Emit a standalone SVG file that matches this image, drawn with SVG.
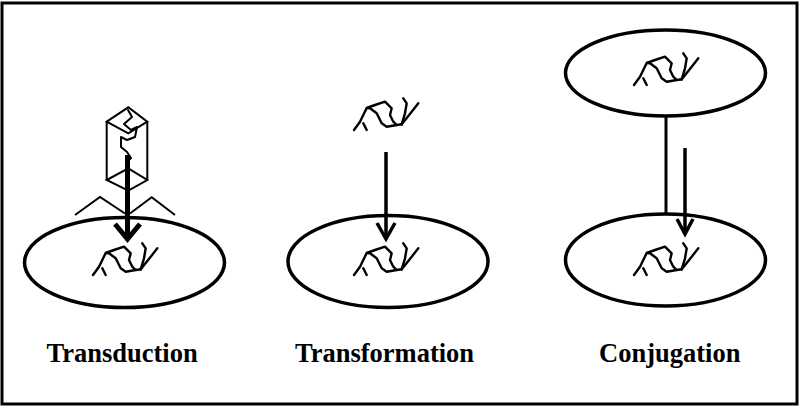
<svg xmlns="http://www.w3.org/2000/svg" xmlns:xlink="http://www.w3.org/1999/xlink" width="800" height="408" viewBox="0 0 800 408">
<style>
.cell{fill:none;stroke:#000;stroke-width:3.5}
.dna{fill:none;stroke:#000;stroke-width:2.4;stroke-linejoin:round;stroke-linecap:round}
.line{fill:none;stroke:#000;stroke-width:3.5}
.ph{fill:none;stroke:#000;stroke-width:2;stroke-linejoin:miter}
.lbl{font-family:"Liberation Serif","Times New Roman",serif;font-weight:bold;font-size:26.5px;fill:#000}
</style>
<defs>
<g id="dna">
<polyline class="dna" points="6,35 12,26.7 18.7,13 27,10 37,6.7 43.7,13.3 42,20 45.3,26.7 48.7,30"/>
<polyline class="dna" points="19,13 22,13.3 28.7,18.3 33.7,28.3 38.7,31.7 48.7,30 53.7,29.3"/>
<polyline class="dna" points="15.3,28.3 18.7,35"/>
<polyline class="dna" points="53.7,29.3 63.7,16.7 70.3,8.3"/>
<polyline class="dna" points="53.7,29.3 57,18.3 58.7,8.3 55.3,3.3"/>
</g>
</defs>
<rect x="2" y="3" width="795" height="401" fill="#fff" stroke="#000" stroke-width="3"/>
<g id="transduction">
<ellipse class="cell" cx="124.5" cy="262.5" rx="100" ry="45"/>
<use xlink:href="#dna" x="87" y="240"/>
<g id="phage">
<polygon class="ph" points="106.7,121.7 128.3,107.3 147.3,121.7 128.3,133.3"/>
<line class="ph" x1="106.7" y1="121.7" x2="106.7" y2="180"/>
<line class="ph" x1="147.3" y1="121.7" x2="147.3" y2="180"/>
<polygon class="ph" points="106.7,180 128.3,168.3 147.3,180 128.3,190.7"/>
<polyline class="dna" style="stroke-width:2" points="128,110 132,117 124,124 131,130 137,127 135,137 127,140 121,137 121,147 127,152 131,158 126,163"/>
<polyline class="ph" points="75,215 100,197 125,213.5"/>
<polyline class="ph" points="130,213.5 151.7,197.3 175,215"/>
</g>
<text class="lbl" x="46.5" y="362">Transduction</text>
</g>
<g id="transformation">
<ellipse class="cell" cx="388" cy="261.5" rx="100" ry="46"/>
<use xlink:href="#dna" x="348" y="95"/>
<use xlink:href="#dna" x="348" y="240"/>
<text class="lbl" x="295" y="362">Transformation</text>
</g>
<g id="conjugation">
<ellipse class="cell" cx="665.5" cy="73" rx="100" ry="43"/>
<ellipse class="cell" cx="665.5" cy="260" rx="100" ry="46"/>
<use xlink:href="#dna" x="628" y="50"/>
<use xlink:href="#dna" x="628" y="240"/>
<text class="lbl" x="599" y="362">Conjugation</text>
</g>
<g id="connectors">
<line x1="127.5" y1="155" x2="127.5" y2="237" stroke="#000" stroke-width="5"/>
<polyline points="115,224 127.5,239 140,224" fill="none" stroke="#000" stroke-width="5"/>
<line class="line" x1="386" y1="152" x2="386" y2="237"/>
<polyline class="line" points="377,223 386,239 395,223"/>
<line x1="666" y1="116" x2="666" y2="214" stroke="#000" stroke-width="3"/>
<line class="line" x1="685" y1="148" x2="685" y2="232"/>
<polyline class="line" points="677,219 685,234 693,219"/>
</g>
</svg>
